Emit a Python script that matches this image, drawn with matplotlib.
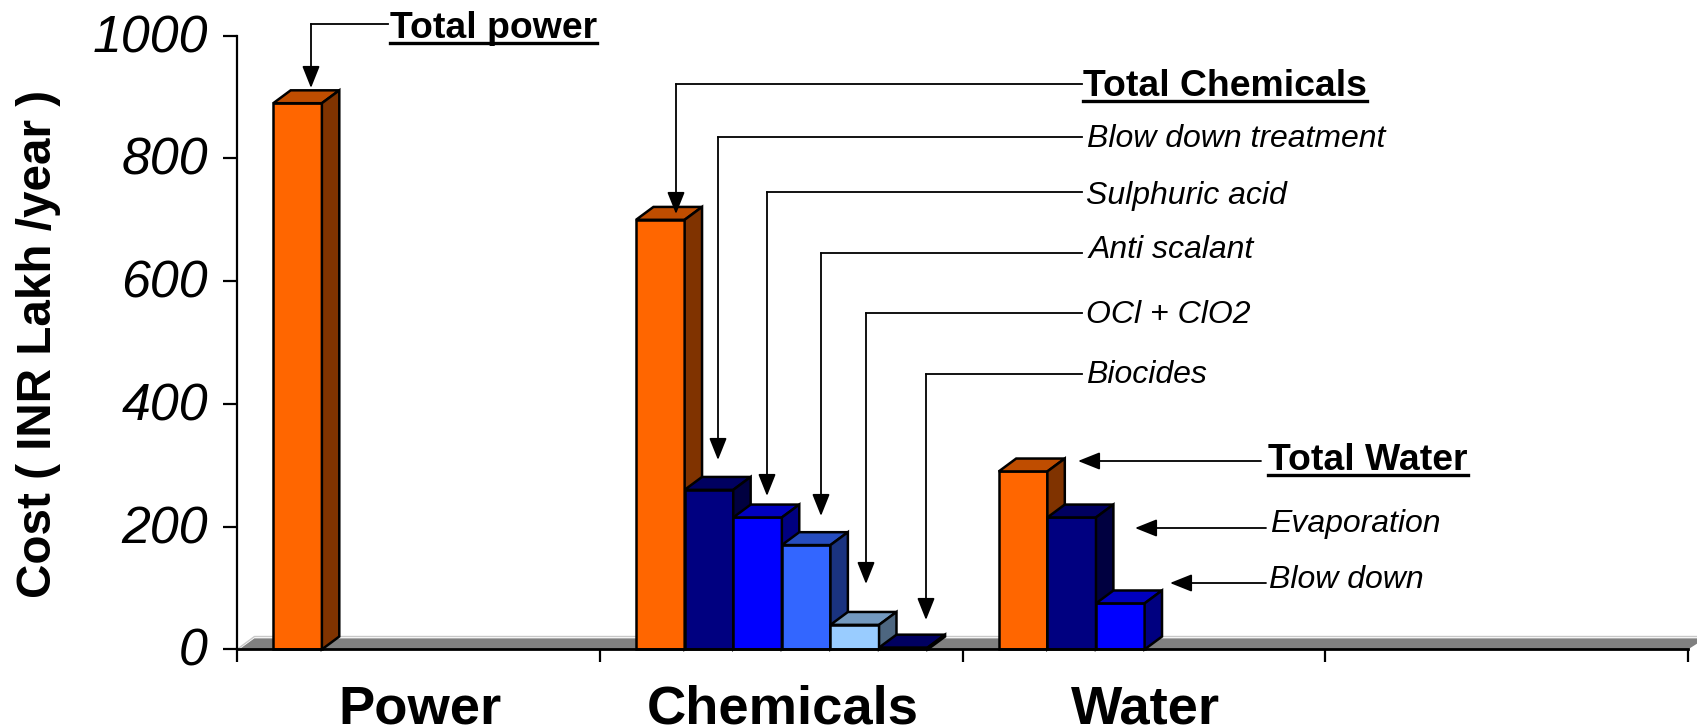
import matplotlib
matplotlib.use('Agg')
import matplotlib.pyplot as plt
from matplotlib.transforms import Affine2D, ScaledTranslation

plt.rcParams['font.family'] = ['Liberation Sans', 'DejaVu Sans']

categories = ['Power', 'Chemicals', 'Water', '']
power_values = [890]
chemical_values = [700, 260, 215, 170, 40, 3]
water_values = [290, 215, 75]
yticks = [0, 200, 400, 600, 800, 1000]

power_colors = [('#FF6600', '#BF4D00', '#803300')]
chemical_colors = [('#FF6600', '#BF4D00', '#803300'),
                   ('#000080', '#000060', '#000040'),
                   ('#0000FF', '#0000BF', '#000080'),
                   ('#3366FF', '#264DBF', '#1A3380'),
                   ('#99CCFF', '#7399BF', '#4D6680'),
                   ('#000080', '#000060', '#000040')]
water_colors = [('#FF6600', '#BF4D00', '#803300'),
                ('#000080', '#000060', '#000040'),
                ('#0000FF', '#0000BF', '#000080')]

# callouts, in pixels of the picture: text, text x, text y, line points
bold_callouts = [
    ('Total power', 390, 29, [(388, 24), (311, 24), (311, 88)]),
    ('Total Chemicals', 1083, 87, [(1082, 84), (676, 84), (676, 214)]),
    ('Total Water', 1268, 461, [(1261, 461), (1078, 461)]),
]
italic_callouts = [
    ('Blow down treatment', 1087, 139, [(1082, 137), (718, 137), (718, 460)]),
    ('Sulphuric acid', 1086, 196, [(1082, 192), (767, 192), (767, 496)]),
    ('Anti scalant', 1089, 250, [(1082, 253), (821, 253), (821, 516)]),
    ('OCl + ClO2', 1086, 315, [(1082, 313), (866, 313), (866, 584)]),
    ('Biocides', 1086, 375, [(1082, 374), (926, 374), (926, 620)]),
    ('Evaporation', 1270, 524, [(1266, 528), (1135, 528)]),
    ('Blow down', 1269, 580, [(1266, 583), (1170, 583)]),
]

W, H = 1697, 728
fig = plt.figure(figsize=(W / 100, H / 100), dpi=100)
ax = fig.add_axes([237 / W, 1 - 649.4 / H, (1688 - 237) / W, (649.4 - 35.7) / H])
ax.set_xlim(0, 4)
ax.set_ylim(0, 1000)

bar_w = 0.134
gap = 0.1
dx = 0.048
dy = 21
floor_dy = 21

px = Affine2D().scale(1 / W, -1 / H).translate(0, 1) + fig.transFigure


def bar3d(x, val, cols, z):
    front, top, side = cols
    ax.bar(x, val, bar_w, align='edge', color=front, edgecolor='black', linewidth=1.8, zorder=z, clip_on=False)
    ax.fill([x, x + dx, x + bar_w + dx, x + bar_w], [val, val + dy, val + dy, val],
            facecolor=top, edgecolor='black', linewidth=1.8, zorder=z, clip_on=False)
    ax.fill([x + bar_w, x + bar_w + dx, x + bar_w + dx, x + bar_w], [0, dy, val + dy, val],
            facecolor=side, edgecolor='black', linewidth=1.8, zorder=z, clip_on=False)


# floor, with its thin light edge at the back
ax.fill([0.006, dx, 4 + dx, 4], [0, floor_dy - 3, floor_dy - 3, 0], facecolor='#808080', edgecolor='none', zorder=1,
        clip_on=False)
ax.plot([0, dx, 4 + dx], [0, floor_dy, floor_dy], color='#C8C8C8', linewidth=1.0, zorder=1, clip_on=False)

z = 3
for i, (vals, cols) in enumerate([(power_values, power_colors),
                                  (chemical_values, chemical_colors),
                                  (water_values, water_colors)]):
    for j in range(len(vals)):
        bar3d(i + gap + j * bar_w, vals[j], cols[j], z)
        z += 1

ax.spines['top'].set_visible(False)
ax.spines['right'].set_visible(False)
ax.spines['left'].set_linewidth(1.6)
ax.spines['bottom'].set_linewidth(2.0)
ax.spines['bottom'].set_zorder(30)

ax.set_yticks(yticks)
ax.set_yticklabels([str(v) for v in yticks], fontsize=37.4, style='italic')
ax.tick_params(axis='y', length=10, width=1.6, pad=11)
for t in ax.get_yticklabels():
    t.set_transform(t.get_transform() + ScaledTranslation(0, 2.5 / 100, fig.dpi_scale_trans))
ax.set_xticks(range(5))
ax.set_xticklabels([])
ax.tick_params(axis='x', length=9, width=1.6)
for i, name in enumerate(categories):
    # baseline sits just above the bottom edge, as in the original slide
    fig.text((239 + (i + 0.5) * (1688 - 237) / 4) / W, 1 - 723 / H, name, ha='center', va='baseline',
             fontsize=39.2, fontweight='bold')

fig.text(39 / W, 1 - 344 / H, 'Cost ( INR Lakh /year )', rotation=90, ha='center', va='center',
         fontsize=34.3, fontweight='bold')


def callout(pts):
    xs = [p[0] for p in pts[:-1]]
    ys = [p[1] for p in pts[:-1]]
    fig.add_artist(plt.Line2D(xs, ys, color='black', linewidth=1.3, transform=px, zorder=40))
    ax.annotate('', xy=pts[-1], xytext=pts[-2], xycoords=px, textcoords=px, zorder=40,
                arrowprops=dict(arrowstyle='-|>,head_width=0.3,head_length=0.75', color='black',
                                linewidth=1.3, shrinkA=0, shrinkB=0, mutation_scale=18))


for name, tx, ty, pts in bold_callouts:
    t = fig.text(tx, ty, name, transform=px, fontsize=26.9, fontweight='bold', ha='left', va='center')
    fig.canvas.draw()
    bb = t.get_window_extent()
    fig.add_artist(plt.Line2D([tx, tx + bb.width], [ty + 14, ty + 14], color='black', linewidth=2.4, transform=px))
    callout(pts)

for name, tx, ty, pts in italic_callouts:
    fig.text(tx, ty, name, transform=px, fontsize=23, style='italic', ha='left', va='center')
    callout(pts)

fig.savefig('out.png', dpi=100)
